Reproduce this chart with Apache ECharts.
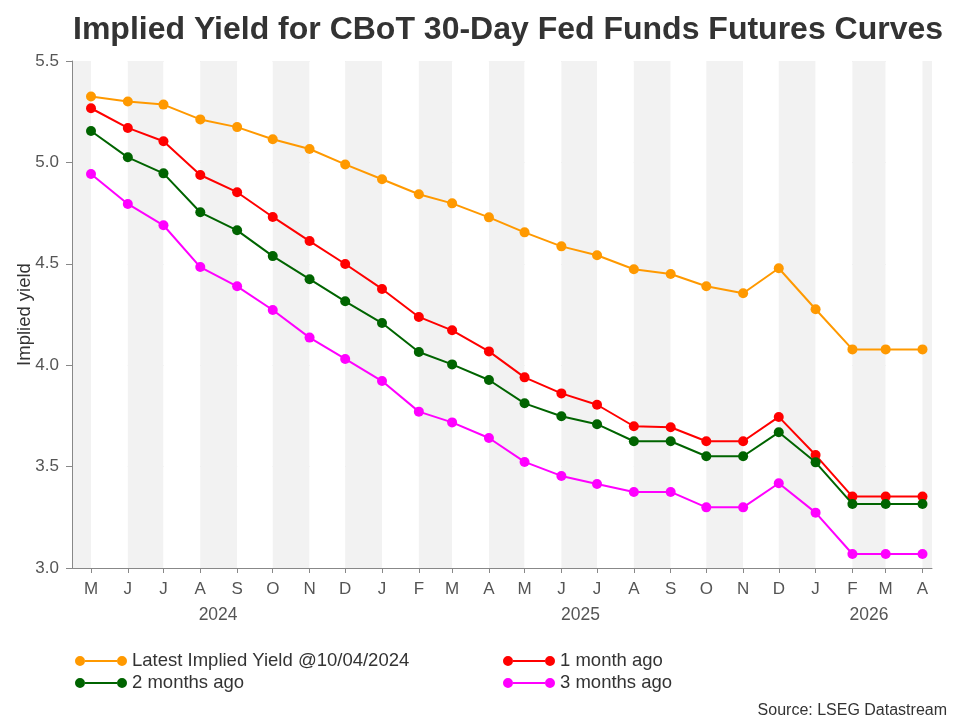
<!DOCTYPE html>
<html><head><meta charset="utf-8">
<script src="https://cdn.jsdelivr.net/npm/echarts@6/dist/echarts.min.js"></script>
<style>html,body{margin:0;padding:0;background:#fff}#c{width:960px;height:720px}</style>
</head><body><div id="c"></div>
<script>
// Contract months (first of month)
const months = ['2024-05-01','2024-06-01','2024-07-01','2024-08-01','2024-09-01','2024-10-01','2024-11-01','2024-12-01',
  '2025-01-01','2025-02-01','2025-03-01','2025-04-01','2025-05-01','2025-06-01','2025-07-01','2025-08-01',
  '2025-09-01','2025-10-01','2025-11-01','2025-12-01','2026-01-01','2026-02-01','2026-03-01','2026-04-01'];
const latest = [5.325,5.300,5.285,5.212,5.174,5.114,5.066,4.990,4.917,4.843,4.798,4.729,4.655,4.586,4.542,4.473,4.450,4.389,4.355,4.478,4.276,4.078,4.078,4.078];
const oneMonthAgo = [5.267,5.170,5.104,4.938,4.853,4.731,4.612,4.499,4.376,4.238,4.172,4.068,3.940,3.861,3.805,3.699,3.694,3.625,3.625,3.745,3.557,3.352,3.352,3.352];
const twoMonthsAgo = [5.155,5.025,4.946,4.754,4.665,4.538,4.424,4.315,4.208,4.065,4.004,3.927,3.812,3.748,3.709,3.625,3.625,3.551,3.551,3.669,3.521,3.316,3.316,3.316];
const threeMonthsAgo = [4.943,4.795,4.690,4.484,4.389,4.272,4.136,4.031,3.922,3.771,3.718,3.641,3.523,3.454,3.414,3.375,3.375,3.299,3.299,3.418,3.273,3.069,3.069,3.069];
const seriesNames = ['Latest Implied Yield @10/04/2024','1 month ago','2 months ago','3 months ago'];
const seriesColors = ['#FF9900','#FF0000','#006400','#FF00FF'];
const monthLetters = ['J','F','M','A','M','J','J','A','S','O','N','D'];
const years = ['2024','2025','2026'];
const xMin = '2024-04-15', xMax = '2026-04-09';
const yMin = 3.0, yMax = 5.5, yInterval = 0.5;

const seriesData = [latest, oneMonthAgo, twoMonthsAgo, threeMonthsAgo];
const legendIcon = 'path://M0,5a5,5 0 1,1 10,0a5,5 0 1,1 -10,0z M42,5a5,5 0 1,1 10,0a5,5 0 1,1 -10,0z M10,4h32v2h-32z';

const chart = echarts.init(document.getElementById('c'), null, {renderer: 'canvas'});
const FONT = 'Liberation Sans, Arial, sans-serif';
const legendCommon = {
  orient: 'vertical', top: 646, itemWidth: 52, itemHeight: 10, itemGap: 2,
  icon: legendIcon,
  textStyle: {fontSize: 18.5, color: '#333', fontFamily: FONT, lineHeight: 20}
};
const option = {
  backgroundColor: '#fff',
  animation: false,
  textStyle: {fontFamily: FONT},
  title: {
    text: 'Implied Yield for CBoT 30-Day Fed Funds Futures Curves',
    left: 68, top: 9,
    textStyle: {fontSize: 32, fontWeight: 'bold', color: '#333', fontFamily: FONT}
  },
  grid: {left: 72, right: 28, top: 61, bottom: 152, containLabel: false, outerBoundsMode: 'none'},
  legend: [
    Object.assign({left: 70, data: [seriesNames[0], seriesNames[2]]}, legendCommon),
    Object.assign({left: 498, data: [seriesNames[1], seriesNames[3]]}, legendCommon)
  ],
  xAxis: {
    type: 'time', min: xMin, max: xMax,
    splitNumber: 24,
    minInterval: 28 * 86400000, maxInterval: 31 * 86400000,
    axisLine: {show: true, lineStyle: {color: '#888', width: 1}},
    axisTick: {show: true, length: 5, lineStyle: {color: '#888'}},
    axisLabel: {
      show: true, color: '#555', fontSize: 17, margin: 13, hideOverlap: false,
      showMinLabel: false, showMaxLabel: false,
      formatter: function (v) {
        const d = new Date(v);
        if (d.getDate() !== 1) return '';
        return monthLetters[d.getMonth()];
      }
    },
    splitLine: {show: false},
    splitArea: {show: true, areaStyle: {color: ['#f2f2f2', '#ffffff']}}
  },
  yAxis: {
    type: 'value', min: yMin, max: yMax, interval: yInterval,
    name: 'Implied yield', nameLocation: 'middle', nameGap: 38, nameRotate: 90,
    nameMoveOverlap: false,
    nameTextStyle: {fontSize: 18.5, color: '#333', fontFamily: FONT},
    axisLine: {show: true, lineStyle: {color: '#888'}},
    axisTick: {show: true, length: 6, lineStyle: {color: '#888'}},
    axisLabel: {color: '#555', fontSize: 17, margin: 13, formatter: v => v.toFixed(1)},
    splitLine: {show: true, lineStyle: {color: '#e0e0e0', type: 'dashed', width: 1}}
  },
  series: seriesData.map((arr, i) => ({
    name: seriesNames[i], type: 'line',
    data: months.map((m, j) => [m, arr[j]]),
    symbol: 'circle', symbolSize: 10, showSymbol: true,
    lineStyle: {width: 2, color: seriesColors[i]},
    itemStyle: {color: seriesColors[i]},
    z: 2 + i
  }))
};
chart.setOption(option);

// Year labels centred under each year's month ticks
const graphics = years.map(y => {
  const ms = months.filter(m => m.startsWith(y));
  const x0 = chart.convertToPixel({xAxisIndex: 0}, ms[0]);
  const x1 = chart.convertToPixel({xAxisIndex: 0}, ms[ms.length - 1]);
  const yPix = chart.convertToPixel({yAxisIndex: 0}, yMin);
  return {
    type: 'text', x: (x0 + x1) / 2, y: yPix + 47,
    style: {text: y, fill: '#555', font: '17.5px ' + FONT, textAlign: 'center', textVerticalAlign: 'middle'}
  };
});
graphics.push({
  type: 'text', right: 13, bottom: 1,
  style: {text: 'Source: LSEG Datastream', fill: '#333', font: '16px ' + FONT}
});
chart.setOption({graphic: graphics});
</script>
</body></html>
